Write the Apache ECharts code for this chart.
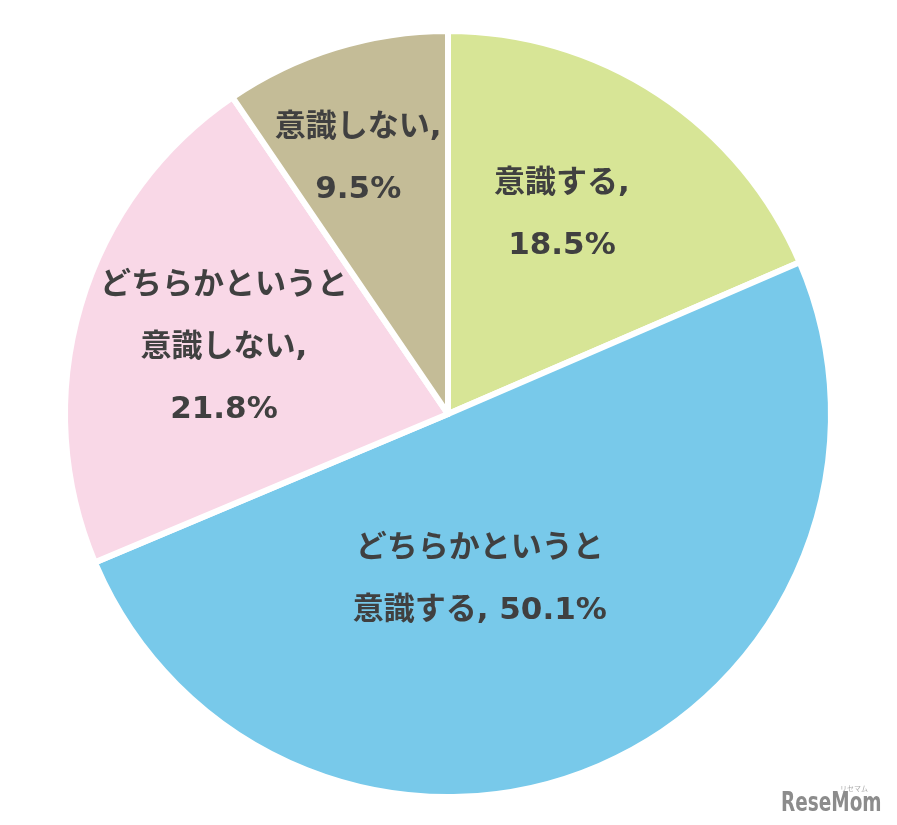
<!DOCTYPE html>
<html>
<head>
<meta charset="utf-8">
<script src="https://cdn.jsdelivr.net/npm/echarts@6/dist/echarts.min.js"></script>
<style>html,body{margin:0;padding:0;background:#fff;}#c{width:897px;height:825px;}</style>
</head>
<body>
<div id="c"></div>
<script>
const categories = ['意識する', 'どちらかというと\n意識する', 'どちらかというと\n意識しない', '意識しない'];
const values = [18.5, 50.1, 21.8, 9.5];
const separators = [',\n', ', ', ',\n', ',\n'];
const colors = ['#d7e596', '#78c9ea', '#f9d8e7', '#c4bc97'];

// label placement: fraction of radius and angle offset (deg) from slice middle
const labelRadiusFrac = [0.60, 0.44, 0.61, 0.705];
const labelAngleOffset = [-3.6, 12.2, 0, -2.3];

const CX = 448, CY = 414, R = 383;

const chart = echarts.init(document.getElementById('c'));
const total = values.reduce((a, b) => a + b, 0);
const cum = [];
let acc = 0;
values.forEach(v => { cum.push(acc); acc += v; });

chart.setOption({
  backgroundColor: '#ffffff',
  animation: false,
  series: [{
    type: 'pie',
    center: [CX, CY],
    radius: [0, R],
    startAngle: 90,
    clockwise: true,
    avoidLabelOverlap: false,
    itemStyle: { borderColor: '#ffffff', borderWidth: 6 },
    label: {
      show: true,
      position: 'inside',
      formatter: p => categories[p.dataIndex] + separators[p.dataIndex] + values[p.dataIndex] + '%',
      color: '#404040',
      fontSize: 31,
      fontWeight: 'bold',
      fontFamily: '"DejaVu Sans", "Noto Sans CJK JP", sans-serif',
      lineHeight: 62,
      align: 'center'
    },
    labelLine: { show: false },
    labelLayout: function (p) {
      const i = p.dataIndex;
      const mid = (cum[i] + values[i] / 2) / total * 360 + labelAngleOffset[i];
      const a = mid * Math.PI / 180;
      const r = R * labelRadiusFrac[i];
      return { x: CX + r * Math.sin(a), y: CY - r * Math.cos(a), align: 'center', verticalAlign: 'middle' };
    },
    data: categories.map((c, i) => ({ name: c, value: values[i], itemStyle: { color: colors[i] } }))
  }],
  graphic: [
    {
      type: 'text', x: 781, y: 790, scaleX: 0.76,
      style: { text: 'ReseMom', fill: '#8c8c8c', font: 'bold 27px "DejaVu Sans Condensed", sans-serif' }
    },
    {
      type: 'text', x: 840, y: 785,
      style: { text: 'リセマム', fill: '#aaaaaa', font: '7px "Noto Sans CJK JP", sans-serif' }
    }
  ]
});
</script>
</body>
</html>
